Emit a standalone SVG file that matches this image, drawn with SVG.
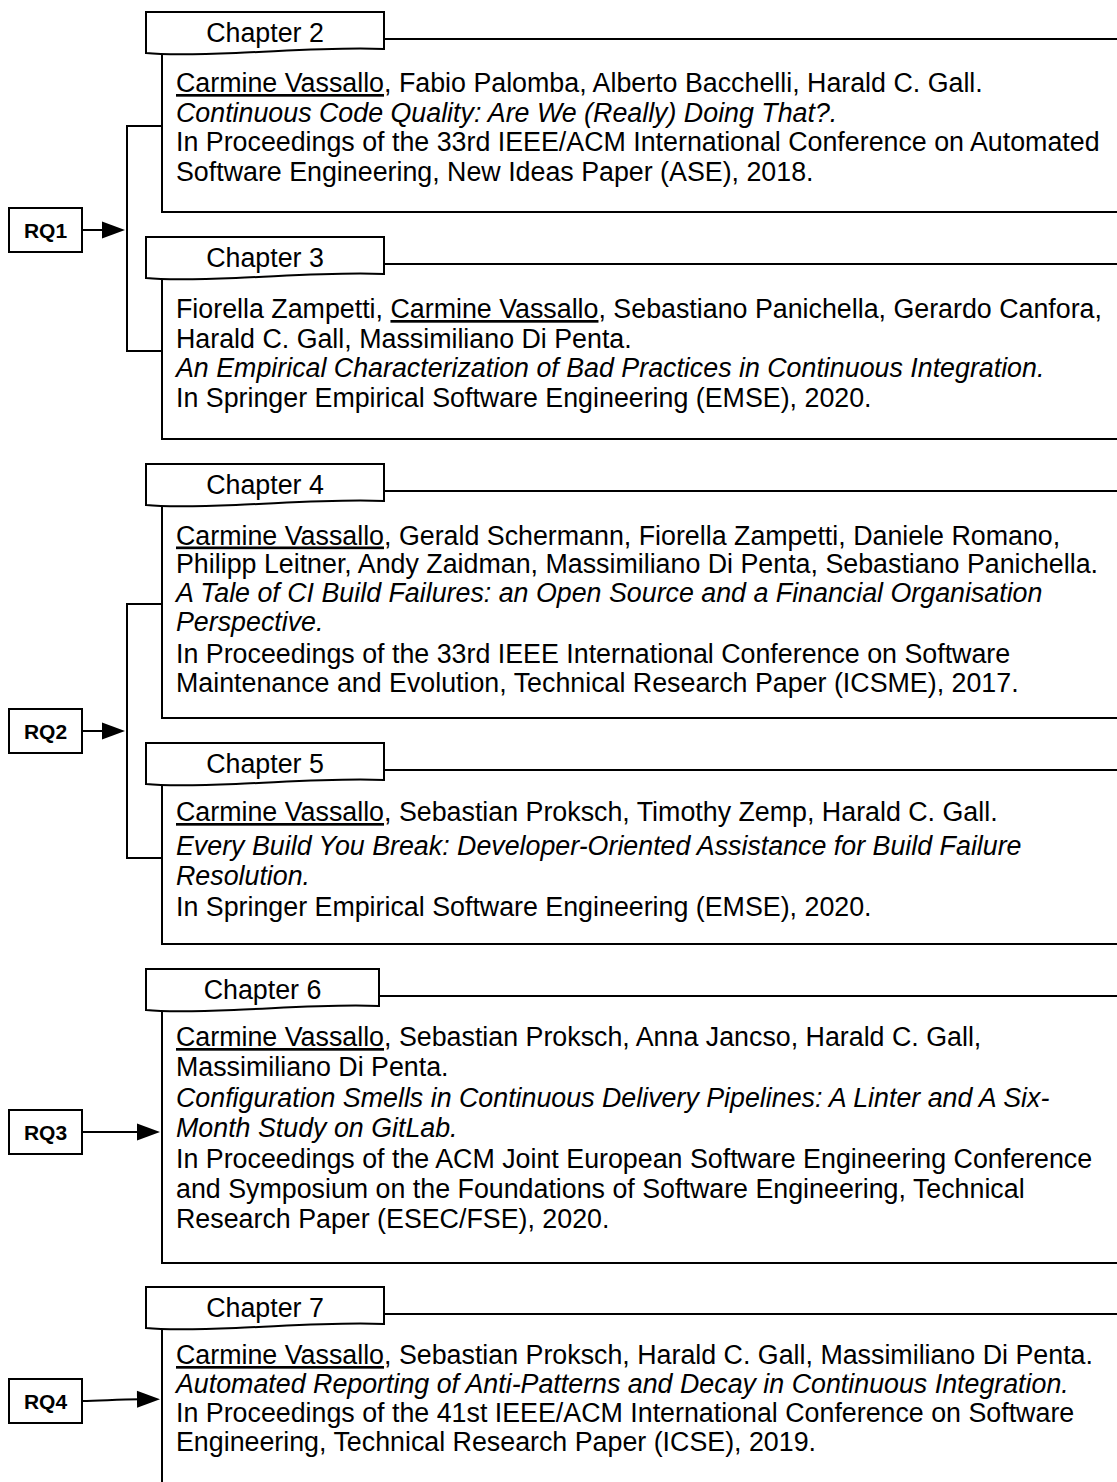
<svg xmlns="http://www.w3.org/2000/svg" xmlns:xlink="http://www.w3.org/1999/xlink" width="1117" height="1482" viewBox="0 0 1117 1482">
  <style>
    .ln { fill: none; stroke: #000; stroke-width: 2; }
    .box { fill: #fff; stroke: #000; stroke-width: 2; }
    .t { font-family: "Liberation Sans", Arial, Helvetica, sans-serif; font-size: 26.8px; fill: #000; }
    .ch { text-anchor: middle; }
    .i { font-style: italic; }
    .u { text-decoration: underline; }
    .rq { font-family: "Liberation Sans", Arial, Helvetica, sans-serif; font-size: 21px; font-weight: bold; text-anchor: middle; fill: #000; }
  </style>
  <defs>
    <!-- chapter tab: document shape with wavy bottom edge -->
    <path id="tab" d="M0,0 H238 V37 C190,35 140,39 90,41 C50,42.5 20,43 0,41 Z"/>
    <path id="tab6" d="M0,0 H233 V37 C186,35 137,39 88,41 C49,42.5 20,43 0,41 Z"/>
    <marker id="ah" markerWidth="24" markerHeight="18" refX="3" refY="8.5" orient="auto" markerUnits="userSpaceOnUse" overflow="visible">
      <path d="M0,0 L23,8.5 L0,17 Z" fill="#000"/>
    </marker>
  </defs>
  <rect width="1117" height="1482" fill="#fff"/>

  <!-- connectors: research questions to chapters -->
  <g id="connectors">
    <path class="ln" d="M162,126 H127 V351 H162"/>
    <path class="ln" d="M82,230 H105" marker-end="url(#ah)"/>
    <path class="ln" d="M162,604 H127 V858 H162"/>
    <path class="ln" d="M82,731 H105" marker-end="url(#ah)"/>
    <path class="ln" d="M82,1132 H140" marker-end="url(#ah)"/>
    <path class="ln" d="M82,1401 C100,1401 115,1399.5 140,1399.3" marker-end="url(#ah)"/>
  </g>

  <!-- research questions -->
  <g id="rq1">
    <rect class="box" x="9" y="208" width="73" height="44"/>
    <text class="rq" x="45.5" y="237.5">RQ1</text>
  </g>
  <g id="rq2">
    <rect class="box" x="9" y="709" width="73" height="44"/>
    <text class="rq" x="45.5" y="738.5">RQ2</text>
  </g>
  <g id="rq3">
    <rect class="box" x="9" y="1110" width="73" height="44"/>
    <text class="rq" x="45.5" y="1139.5">RQ3</text>
  </g>
  <g id="rq4">
    <rect class="box" x="9" y="1379" width="73" height="44"/>
    <text class="rq" x="45.5" y="1408.5">RQ4</text>
  </g>

  <!-- Chapter 2 -->
  <g id="ch2">
    <rect class="box" x="162" y="39" width="1000" height="173"/>
    <use href="#tab" x="146" y="12" class="box"/>
    <text class="t ch" x="265" y="42">Chapter 2</text>
    <text class="t" x="176" y="92"><tspan class="u">Carmine Vassallo</tspan>, Fabio Palomba, Alberto Bacchelli, Harald C. Gall.</text>
    <text class="t i" x="176" y="121.5">Continuous Code Quality: Are We (Really) Doing That?.</text>
    <text class="t" x="176" y="151">In Proceedings of the 33rd IEEE/ACM International Conference on Automated</text>
    <text class="t" x="176" y="180.5">Software Engineering, New Ideas Paper (ASE), 2018.</text>
  </g>

  <!-- Chapter 3 -->
  <g id="ch3">
    <rect class="box" x="162" y="264" width="1000" height="175"/>
    <use href="#tab" x="146" y="237" class="box"/>
    <text class="t ch" x="265" y="267">Chapter 3</text>
    <text class="t" x="176" y="318">Fiorella Zampetti, <tspan class="u">Carmine Vassallo</tspan>, Sebastiano Panichella, Gerardo Canfora,</text>
    <text class="t" x="176" y="347.5">Harald C. Gall, Massimiliano Di Penta.</text>
    <text class="t i" x="176" y="377">An Empirical Characterization of Bad Practices in Continuous Integration.</text>
    <text class="t" x="176" y="406.5">In Springer Empirical Software Engineering (EMSE), 2020.</text>
  </g>

  <!-- Chapter 4 -->
  <g id="ch4">
    <rect class="box" x="162" y="491" width="1000" height="227"/>
    <use href="#tab" x="146" y="464" class="box"/>
    <text class="t ch" x="265" y="494">Chapter 4</text>
    <text class="t" x="176" y="544.5"><tspan class="u">Carmine Vassallo</tspan>, Gerald Schermann, Fiorella Zampetti, Daniele Romano,</text>
    <text class="t" x="176" y="573">Philipp Leitner, Andy Zaidman, Massimiliano Di Penta, Sebastiano Panichella.</text>
    <text class="t i" x="176" y="601.5">A Tale of CI Build Failures: an Open Source and a Financial Organisation</text>
    <text class="t i" x="176" y="630.5">Perspective.</text>
    <text class="t" x="176" y="662.5">In Proceedings of the 33rd IEEE International Conference on Software</text>
    <text class="t" x="176" y="692">Maintenance and Evolution, Technical Research Paper (ICSME), 2017.</text>
  </g>

  <!-- Chapter 5 -->
  <g id="ch5">
    <rect class="box" x="162" y="770" width="1000" height="174"/>
    <use href="#tab" x="146" y="743" class="box"/>
    <text class="t ch" x="265" y="773">Chapter 5</text>
    <text class="t" x="176" y="821"><tspan class="u">Carmine Vassallo</tspan>, Sebastian Proksch, Timothy Zemp, Harald C. Gall.</text>
    <text class="t i" x="176" y="855">Every Build You Break: Developer-Oriented Assistance for Build Failure</text>
    <text class="t i" x="176" y="885">Resolution.</text>
    <text class="t" x="176" y="916">In Springer Empirical Software Engineering (EMSE), 2020.</text>
  </g>

  <!-- Chapter 6 -->
  <g id="ch6">
    <rect class="box" x="162" y="996" width="1000" height="267"/>
    <use href="#tab6" x="146" y="969" class="box"/>
    <text class="t ch" x="262.5" y="999">Chapter 6</text>
    <text class="t" x="176" y="1046"><tspan class="u">Carmine Vassallo</tspan>, Sebastian Proksch, Anna Jancso, Harald C. Gall,</text>
    <text class="t" x="176" y="1076">Massimiliano Di Penta.</text>
    <text class="t i" x="176" y="1107">Configuration Smells in Continuous Delivery Pipelines: A Linter and A Six-</text>
    <text class="t i" x="176" y="1137">Month Study on GitLab.</text>
    <text class="t" x="176" y="1168">In Proceedings of the ACM Joint European Software Engineering Conference</text>
    <text class="t" x="176" y="1198">and Symposium on the Foundations of Software Engineering, Technical</text>
    <text class="t" x="176" y="1228">Research Paper (ESEC/FSE), 2020.</text>
  </g>

  <!-- Chapter 7 (card runs past the bottom edge) -->
  <g id="ch7">
    <rect class="box" x="162" y="1314" width="1000" height="200"/>
    <use href="#tab" x="146" y="1287" class="box"/>
    <text class="t ch" x="265" y="1317">Chapter 7</text>
    <text class="t" x="176" y="1364"><tspan class="u">Carmine Vassallo</tspan>, Sebastian Proksch, Harald C. Gall, Massimiliano Di Penta.</text>
    <text class="t i" x="176" y="1393">Automated Reporting of Anti-Patterns and Decay in Continuous Integration.</text>
    <text class="t" x="176" y="1422">In Proceedings of the 41st IEEE/ACM International Conference on Software</text>
    <text class="t" x="176" y="1451">Engineering, Technical Research Paper (ICSE), 2019.</text>
  </g>
</svg>
